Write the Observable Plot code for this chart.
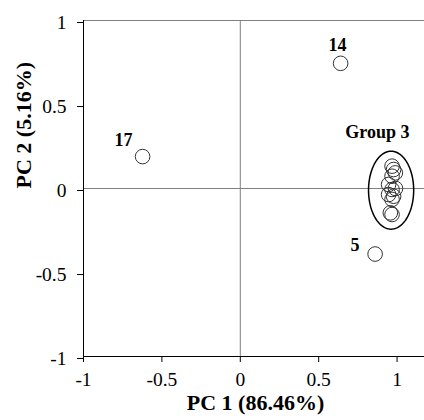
<!DOCTYPE html>
<html><head><meta charset="utf-8">
<script src="https://cdn.jsdelivr.net/npm/d3@7"></script>
<script src="https://cdn.jsdelivr.net/npm/@observablehq/plot@0.6"></script>
<style>
body{margin:0;background:#fff}
#chart svg, #chart svg text{font-family:'Liberation Serif','Times New Roman',serif !important}
</style>
</head><body><div id="chart"></div>
<script>
const xTicks = [-1, -0.5, 0, 0.5, 1];
const yTicks = [-1, -0.5, 0, 0.5, 1];
const xTitle = "PC 1 (86.46%)";
const yTitle = "PC 2 (5.16%)";

const outlierNames = ["14", "17", "5"];
const outlierPC1 = [0.64, -0.623, 0.86];
const outlierPC2 = [0.745, 0.19, -0.39];

const groupPC1 = [0.968, 0.978, 0.989, 0.968, 0.946, 0.968, 0.946, 0.978, 0.968, 0.957, 0.968, 0.99];
const groupPC2 = [0.133, 0.113, 0.093, 0.073, 0.024, -0.006, -0.036, -0.046, -0.065, -0.145, -0.155, 0.0];

const groupName = "Group 3";
const groupLabelPC = [0.875, 0.335];
const groupCenter = [0.962, -0.01];
const groupRadii = [0.144, 0.232];

const serif = "'Liberation Serif', 'Times New Roman', serif";
const outliers = outlierNames.map((n, i) => ({name: n, x: outlierPC1[i], y: outlierPC2[i]}));
const group = groupPC1.map((x, i) => ({x, y: groupPC2[i]}));
const ellipse = d3.range(0, 96).map(k => {
  const t = (k / 96) * 2 * Math.PI;
  return {x: groupCenter[0] + groupRadii[0] * Math.cos(t), y: groupCenter[1] + groupRadii[1] * Math.sin(t)};
});

const fmt = d => String(d);
const labelOffsets = {"14": [-3, -18], "17": [-19, -16], "5": [-20, -9]};
const labelMarks = outlierNames.map(n => Plot.text(outliers.filter(d => d.name === n), {
  x: "x", y: "y", text: "name", dx: labelOffsets[n][0], dy: labelOffsets[n][1],
  fontWeight: "bold", fontSize: 18, fill: "black", fontFamily: serif
}));

const chart = Plot.plot({
  width: 424,
  height: 420,
  marginLeft: 83,
  marginRight: 0,
  marginTop: 20,
  marginBottom: 64,
  style: {fontFamily: serif, fontSize: "19px", color: "black", background: "white"},
  x: {domain: [-1, 1.175]},
  y: {domain: [-1, 1]},
  marks: [
    Plot.ruleY([1], {stroke: "#808080"}),
    Plot.ruleX([0], {stroke: "#808080"}),
    Plot.ruleY([0], {stroke: "#808080"}),
    Plot.ruleX([-1], {stroke: "black"}),
    Plot.ruleY([-1], {stroke: "black"}),
    Plot.axisY({ticks: yTicks, tickSize: 6, tickPadding: 11, tickFormat: fmt, label: null, fontSize: 19.5, fontFamily: serif, stroke: "black", dy: 2}),
    Plot.axisX({ticks: xTicks, tickSize: 6, tickPadding: 10, tickFormat: fmt, label: null, fontSize: 19.5, fontFamily: serif, stroke: "black"}),
    Plot.line(ellipse, {x: "x", y: "y", curve: "linear-closed", stroke: "black", strokeWidth: 1.5}),
    Plot.dot(group, {x: "x", y: "y", r: 7.3, stroke: "#333", strokeWidth: 1, fill: "none"}),
    Plot.dot(outliers, {x: "x", y: "y", r: 7.3, stroke: "#333", strokeWidth: 1, fill: "white"}),
    ...labelMarks,
    Plot.text([groupName], {x: () => groupLabelPC[0], y: () => groupLabelPC[1], text: d => d, fontWeight: "bold", fontSize: 18, fill: "black", fontFamily: serif}),
    Plot.text([xTitle], {text: d => d, frameAnchor: "bottom", dx: 1.5, dy: 53.5, fontWeight: "bold", fontSize: 22, fill: "black", fontFamily: serif}),
    Plot.text([yTitle], {text: d => d, frameAnchor: "left", rotate: -90, dx: -60, dy: 0, fontWeight: "bold", fontSize: 22, fill: "black", fontFamily: serif})
  ]
});
document.getElementById("chart").appendChild(chart);
</script>
</body></html>
